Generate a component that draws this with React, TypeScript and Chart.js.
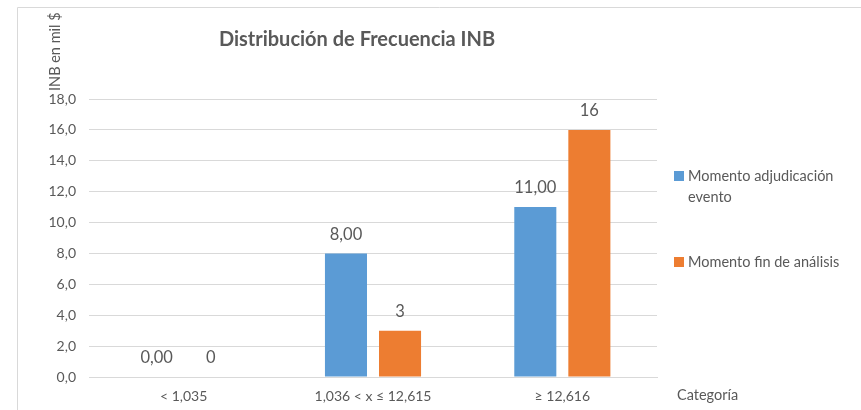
import React, { useEffect, useRef } from "react";
import { Chart, registerables } from "chart.js";

Chart.register(...registerables);

const categories = ["< 1,035", "1,036 < x ≤ 12,615", "≥ 12,616"];
const adjudicacion = [0, 8, 11];
const finAnalisis = [0, 3, 16];
const adjLabels = ["0,00", "8,00", "11,00"];
const finLabels = ["0", "3", "16"];
const seriesNames = ["Momento adjudicación evento", "Momento fin de análisis"];
const chartTitle = "Distribución de Frecuencia INB";
const yTitle = "INB en mil $";
const xTitle = "Categoría";

const BLUE = "#5B9BD5";
const ORANGE = "#ED7D31";
const TEXT = "#595959";
const GRID = "#D9D9D9";
const FONT = "Lato, 'Open Sans', sans-serif";

const decorPlugin = {
  id: "decor",
  afterDraw(chart: any) {
    const ctx = chart.ctx;
    ctx.save();
    // outer frame
    ctx.strokeStyle = GRID;
    ctx.lineWidth = 1;
    ctx.beginPath();
    ctx.moveTo(17.5, 420);
    ctx.lineTo(17.5, 7.5);
    ctx.lineTo(870, 7.5);
    ctx.stroke();

    // title
    ctx.fillStyle = TEXT;
    ctx.font = `bold 20px ${FONT}`;
    ctx.textAlign = "center";
    ctx.textBaseline = "middle";
    ctx.fillText(chartTitle, 357, 40);

    // y title rotated
    ctx.font = `14.5px ${FONT}`;
    ctx.save();
    ctx.translate(55, 91);
    ctx.rotate(-Math.PI / 2);
    ctx.textAlign = "left";
    ctx.textBaseline = "middle";
    ctx.fillText(yTitle, 0, 0);
    ctx.restore();

    // x title
    ctx.font = `14.5px ${FONT}`;
    ctx.textAlign = "left";
    ctx.textBaseline = "middle";
    ctx.fillText(xTitle, 677, 395);

    // legend
    ctx.fillStyle = BLUE;
    ctx.fillRect(674, 171, 10, 10);
    ctx.fillStyle = ORANGE;
    ctx.fillRect(674, 257, 10, 10);
    ctx.fillStyle = TEXT;
    ctx.font = `14.5px ${FONT}`;
    ctx.fillText("Momento adjudicación", 688, 176);
    ctx.fillText("evento", 688, 197);
    ctx.fillText(seriesNames[1], 688, 262);

    // data labels
    ctx.font = `16.5px ${FONT}`;
    ctx.textAlign = "center";
    const lbls = [adjLabels, finLabels];
    chart.data.datasets.forEach((_: any, di: number) => {
      const meta = chart.getDatasetMeta(di);
      meta.data.forEach((bar: any, i: number) => {
        ctx.fillText(lbls[di][i], bar.x, bar.y - 19);
      });
    });
    ctx.restore();
  },
};

export default function App() {
  const ref = useRef<HTMLCanvasElement>(null);
  useEffect(() => {
    if (!ref.current) return;
    const chart = new Chart(ref.current, {
      type: "bar",
      data: {
        labels: categories,
        datasets: [
          {
            label: seriesNames[0],
            data: adjudicacion,
            backgroundColor: BLUE,
            categoryPercentage: 0.571,
            barPercentage: 0.778,
          },
          {
            label: seriesNames[1],
            data: finAnalisis,
            backgroundColor: ORANGE,
            categoryPercentage: 0.571,
            barPercentage: 0.778,
          },
        ],
      },
      options: {
        animation: false,
        responsive: false,
        maintainAspectRatio: false,
        layout: { padding: { left: 0, right: 204, top: 99, bottom: 0 } },
        plugins: {
          legend: { display: false },
          title: { display: false },
          tooltip: { enabled: false },
        },
        scales: {
          x: {
            grid: { display: false, drawTicks: false },
            border: { color: GRID, width: 1 },
            ticks: {
              color: TEXT,
              font: { family: FONT, size: 14 },
              padding: 11,
              maxRotation: 0,
            },
            afterFit(scale: any) {
              scale.height = 33;
            },
          },
          y: {
            min: 0,
            max: 18,
            grid: { color: GRID, lineWidth: 1, drawTicks: false },
            border: { display: false },
            ticks: {
              stepSize: 2,
              color: TEXT,
              font: { family: FONT, size: 14 },
              padding: 13,
              callback: (v: any) => Number(v).toFixed(1).replace(".", ","),
            },
            afterFit(scale: any) {
              scale.width = 89;
            },
          },
        },
      },
      plugins: [decorPlugin],
    });
    return () => chart.destroy();
  }, []);
  return (
    <div style={{ position: "fixed", left: 0, top: 0, width: 861, height: 410, background: "#fff" }}>
      <canvas ref={ref} width={861} height={410} style={{ display: "block" }} />
    </div>
  );
}
